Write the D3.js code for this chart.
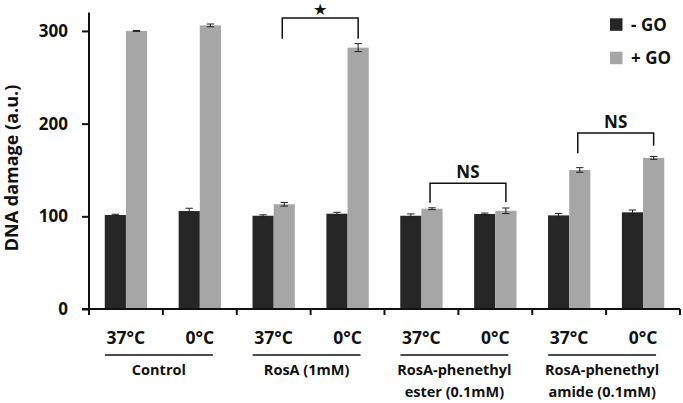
<!DOCTYPE html>
<html><head><meta charset="utf-8">
<script src="https://cdn.jsdelivr.net/npm/d3@7"></script>
<style>body{margin:0;background:#fff}svg{display:block}text{font-family:"Open Sans",Lato,sans-serif;font-weight:bold;fill:#111}</style>
</head><body><svg id="c" width="683" height="403"></svg>
<script>
const temps = ["37°C","0°C","37°C","0°C","37°C","0°C","37°C","0°C"];
const groups = [["Control"],["RosA (1mM)"],["RosA-phenethyl","ester (0.1mM)"],["RosA-phenethyl","amide (0.1mM)"]];
const seriesNames = ["- GO","+ GO"];
const minusGO = [101.4,105.7,100.6,102.8,100.6,102.5,101,104.3];
const minusErr = [0.8,3,1,1.5,2,1,2,2.5];
const plusGO = [300,306,113,282,108.2,106,150,163];
const plusErr = [0.5,1.5,2,4.3,1,3,2.5,1.5];
const yTicks = [0,100,200,300];
// brackets: [left category, right category, top value, left-bottom value, right-bottom value, label]
const brackets = [[2,3,314,291.5,291.5,"★"],[4,5,135.6,114.5,115.5,"NS"],[6,7,190,168,176,"NS"]];

const svg = d3.select("#c");
const x0 = 89, x1 = 680, yTop = 12.4, yBot = 309;
const x = d3.scaleBand().domain(d3.range(8)).range([x0,x1]).paddingInner(0).paddingOuter(0);
const xs = d3.scaleBand().domain([0,1]).range([0,x.bandwidth()]).paddingInner(0).paddingOuter(0.745);
const y = d3.scaleLinear().domain([0,320]).range([yBot,yTop]);
const colors = ["#262626","#a6a6a6"];
const vals = [minusGO, plusGO], errs = [minusErr, plusErr];

// bars
[0,1].forEach(s=>{
  svg.append("g").selectAll("rect").data(vals[s]).join("rect")
    .attr("x",(d,i)=>x(i)+xs(s)).attr("width",xs.bandwidth())
    .attr("y",d=>y(d)).attr("height",d=>y(0)-y(d))
    .attr("fill",colors[s]);
  const g = svg.append("g").attr("stroke","#222").attr("stroke-width",1);
  vals[s].forEach((v,i)=>{
    const cx = x(i)+xs(s)+xs.bandwidth()/2, e = errs[s][i];
    g.append("line").attr("x1",cx).attr("x2",cx).attr("y1",y(v+e)).attr("y2",y(v-e));
    g.append("line").attr("x1",cx-3.7).attr("x2",cx+3.7).attr("y1",y(v+e)).attr("y2",y(v+e));
    g.append("line").attr("x1",cx-3.7).attr("x2",cx+3.7).attr("y1",y(v-e)).attr("y2",y(v-e));
  });
});

// y axis
const ya = svg.append("g").attr("transform",`translate(${x0},0)`)
  .call(d3.axisLeft(y).tickValues(yTicks).tickSize(7).tickPadding(14).tickSizeOuter(0));
ya.select(".domain").attr("stroke","#111").attr("stroke-width",2).attr("d",`M0,${yTop}V${yBot}`);
ya.selectAll(".tick line").attr("stroke","#111").attr("stroke-width",2);
ya.selectAll(".tick text").style("font-size","17px").style("font-family","'Open Sans'").style("font-weight","bold").attr("fill","#111");

// x axis
svg.append("line").attr("x1",x0-7).attr("x2",x1).attr("y1",yBot).attr("y2",yBot).attr("stroke","#111").attr("stroke-width",2);
const bounds = d3.range(9).map(i=> i<8 ? x(i) : x1);
svg.append("g").selectAll("line").data(bounds).join("line")
  .attr("x1",d=>d).attr("x2",d=>d).attr("y1",yBot).attr("y2",yBot+6).attr("stroke","#111").attr("stroke-width",2);
svg.append("g").selectAll("text").data(temps).join("text")
  .attr("x",(d,i)=>x(i)+x.bandwidth()/2).attr("y",343.5).attr("text-anchor","middle")
  .style("font-size","17.5px").text(d=>d);
groups.forEach((lines,gi)=>{
  const c0 = x(2*gi)+x.bandwidth()/2, c1 = x(2*gi+1)+x.bandwidth()/2;
  const l = c0-21, r = c1+13;
  svg.append("line").attr("x1",l).attr("x2",r).attr("y1",355).attr("y2",355).attr("stroke","#111").attr("stroke-width",1.5);
  lines.forEach((t,li)=>{
    svg.append("text").attr("x",(l+r)/2).attr("y",375+li*22).attr("text-anchor","middle").style("font-size","14.5px").text(t);
  });
});

// y title
svg.append("text").attr("transform","translate(18,168) rotate(-90)").attr("text-anchor","middle")
  .style("font-size","18px").text("DNA damage (a.u.)");

// brackets
brackets.forEach(([a,b,top,lb,rb,lab])=>{
  const xa = x(a)+xs(1)+xs.bandwidth()/2-2, xb = x(b)+xs(1)+xs.bandwidth()/2;
  svg.append("path").attr("d",`M${xa},${y(lb)}V${y(top)}H${xb}V${y(rb)}`)
    .attr("fill","none").attr("stroke","#111").attr("stroke-width",1.5);
  if(lab==="★"){
    svg.append("text").attr("x",(xa+xb)/2).attr("y",y(top)-2.5).attr("text-anchor","middle")
      .style("font-family","'DejaVu Sans'").style("font-size","16px").text(lab);
  } else {
    svg.append("text").attr("x",(xa+xb)/2).attr("y",y(top)-5).attr("text-anchor","middle")
      .style("font-size","17px").text(lab);
  }
});

// legend
seriesNames.forEach((n,i)=>{
  svg.append("rect").attr("x",610).attr("y",18.3+i*33.4).attr("width",12.5).attr("height",12.5).attr("fill",colors[i]);
  svg.append("text").attr("x",631).attr("y",30.7+i*33).style("font-size","17px").text(n);
});
</script></body></html>
